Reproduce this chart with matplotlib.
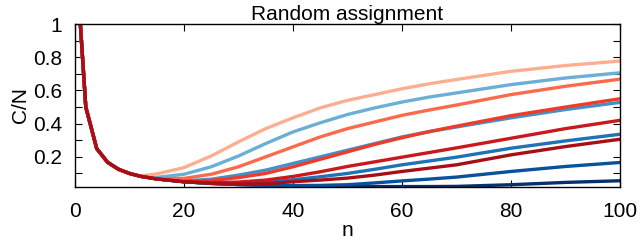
import matplotlib
matplotlib.use('Agg')
import matplotlib.pyplot as plt

plt.rcParams['font.family'] = ['Liberation Sans', 'DejaVu Sans']

# sample sizes
n = [1, 2, 4, 6, 8, 10, 12, 15, 20, 25, 30, 35, 40, 45, 50, 55, 60, 65, 70, 80, 90, 100]

# C/N for each run
head = [1, .5, .25, .167, .125, .1, .083]
salmon    = [1, .5, .25, .167, .125, .1, .085, .097, .135, .205, .29, .37, .435, .495, .54, .575, .61, .64, .666, .715, .75, .777]
lightblue = head + [.076, .095, .14, .205, .28, .35, .405, .455, .495, .53, .56, .585, .635, .675, .706]
tomato    = head + [.068, .07, .095, .14, .20, .26, .32, .37, .41, .45, .482, .512, .575, .625, .668]
blue      = head + [.067, .055, .065, .09, .12, .16, .20, .24, .28, .32, .352, .38, .435, .485, .528]
red       = head + [.067, .052, .058, .075, .10, .14, .185, .23, .275, .315, .352, .385, .448, .50, .55]
crimson   = head + [.067, .05, .045, .048, .06, .082, .11, .142, .17, .198, .226, .254, .312, .37, .42]
blue2     = head + [.067, .05, .04, .038, .045, .062, .08, .10, .125, .152, .175, .198, .252, .296, .336]
darkred   = head + [.067, .05, .04, .035, .038, .05, .06, .072, .09, .112, .132, .152, .212, .262, .306]
darkblue  = head + [.067, .05, .04, .033, .029, .027, .028, .032, .043, .055, .066, .078, .112, .142, .166]
navy      = head + [.067, .05, .04, .033, .029, .025, .022, .022, .021, .021, .021, .022, .032, .046, .056]

# blues drawn first, then reds light -> dark
series = [
    (navy, '#08306b'),
    (darkblue, '#08519c'),
    (blue2, '#2171b5'),
    (blue, '#4292c6'),
    (lightblue, '#6baed6'),
    (salmon, '#fcae91'),
    (tomato, '#fb6a4a'),
    (red, '#ef3b2c'),
    (crimson, '#cb181d'),
    (darkred, '#a50f15'),
]

fig = plt.figure(figsize=(6.4, 2.4), dpi=100)
ax = fig.add_axes([0.117, 0.222, 0.852, 0.678])

for vals, col in series:
    ax.plot(n, vals, color=col, lw=2.4)

ax.set_xlim(0, 100)
ax.set_ylim(0.02, 1)
ax.set_xticks([0, 20, 40, 60, 80, 100])
ax.set_yticks([0.2, 0.4, 0.6, 0.8, 1.0])
ax.set_yticklabels(['0.2', '0.4', '0.6', '0.8', '1'])
ax.set_yticks([0.1, 0.3, 0.5, 0.7, 0.9], minor=True)

ax.tick_params(axis='both', which='both', direction='in', length=5, width=0.8,
               top=True, right=True, labelsize=15, colors='black')
ax.tick_params(axis='x', pad=11)
ax.tick_params(axis='y', pad=9)
for s in ax.spines.values():
    s.set_linewidth(1)

ax.set_title('Random assignment', fontsize=15, pad=1)
ax.set_xlabel('n', fontsize=15, labelpad=0)
ax.set_ylabel('C/N', fontsize=15, labelpad=2)

fig.savefig('out.png', dpi=100)
